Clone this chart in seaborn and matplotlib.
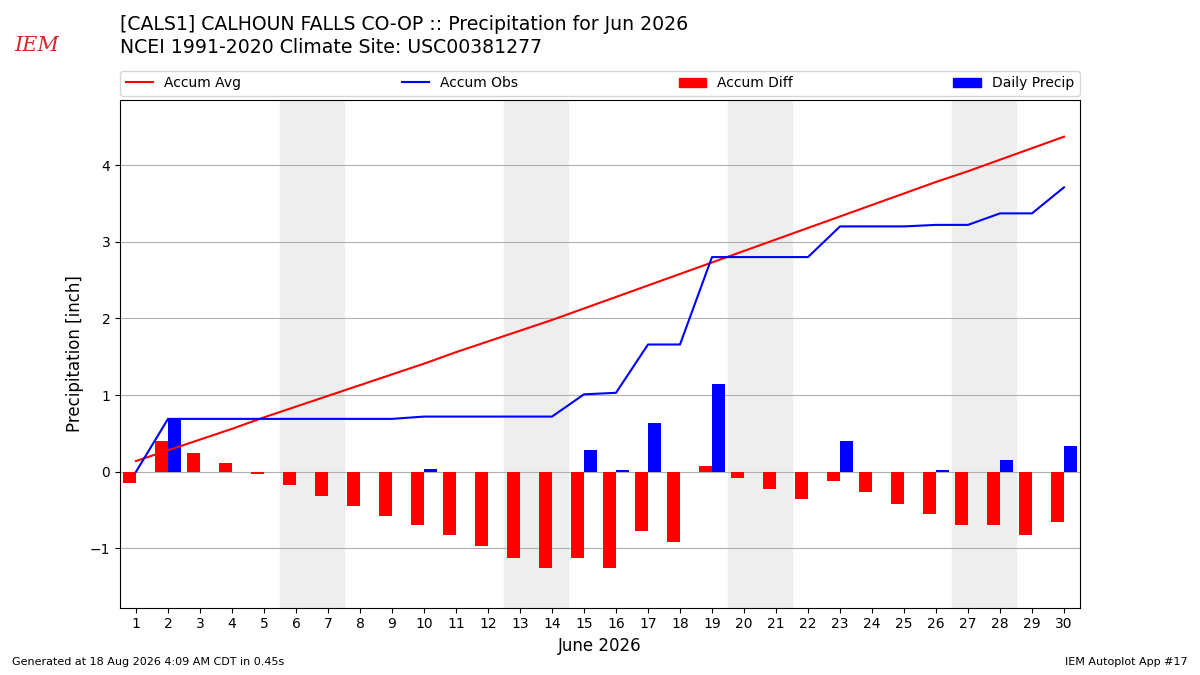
import numpy as np
import pandas as pd
import seaborn as sns
import matplotlib
matplotlib.use("Agg")
import matplotlib.pyplot as plt
from matplotlib.patches import Patch
from matplotlib.lines import Line2D

# June 2026 daily data
days = list(range(1, 31))
accum_avg = [0.14, 0.28, 0.42, 0.56, 0.71, 0.85, 0.99, 1.13, 1.27, 1.41,
             1.56, 1.70, 1.84, 1.98, 2.13, 2.28, 2.43, 2.58, 2.73, 2.88,
             3.03, 3.18, 3.33, 3.48, 3.63, 3.78, 3.92, 4.07, 4.22, 4.37]
accum_obs = [0.00, 0.69, 0.69, 0.69, 0.69, 0.69, 0.69, 0.69, 0.69, 0.72,
             0.72, 0.72, 0.72, 0.72, 1.01, 1.03, 1.66, 1.66, 2.80, 2.80,
             2.80, 2.80, 3.20, 3.20, 3.20, 3.22, 3.22, 3.37, 3.37, 3.71]
accum_diff = [-0.14, 0.40, 0.25, 0.11, -0.03, -0.17, -0.31, -0.44, -0.58, -0.70,
              -0.83, -0.97, -1.12, -1.26, -1.13, -1.25, -0.77, -0.91, 0.07, -0.08,
              -0.22, -0.36, -0.12, -0.27, -0.42, -0.55, -0.69, -0.69, -0.83, -0.66]
daily_precip = [0.00, 0.69, 0.00, 0.00, 0.00, 0.00, 0.00, 0.00, 0.00, 0.03,
                0.00, 0.00, 0.00, 0.00, 0.29, 0.02, 0.63, 0.00, 1.14, 0.00,
                0.00, 0.00, 0.40, 0.00, 0.00, 0.02, 0.00, 0.15, 0.00, 0.34]
weekends = [(6, 7), (13, 14), (20, 21), (27, 28)]

df = pd.DataFrame({'day': days, 'avg': accum_avg, 'obs': accum_obs,
                   'diff': accum_diff, 'precip': daily_precip})

fig = plt.figure(figsize=(12, 6.75), dpi=100)
ax = fig.add_axes([0.1, 0.1, 0.8, 0.752])

# weekend shading
for a, b in weekends:
    ax.axvspan(a - 0.5, b + 0.5, color='#eeeeee', zorder=0)

ax.bar(df['day'], df['diff'], width=-0.4, align='edge', color='red', zorder=2)
ax.bar(df['day'], df['precip'], width=0.4, align='edge', color='blue', zorder=2)
sns.lineplot(data=df, x='day', y='avg', color='red', lw=1.5, ax=ax, zorder=3)
sns.lineplot(data=df, x='day', y='obs', color='blue', lw=1.5, ax=ax, zorder=3)

ax.set_xlim(0.5, 30.5)
ax.set_ylim(-1.77, 4.85)
ax.set_xticks(days)
ax.set_yticks([-1, 0, 1, 2, 3, 4])
ax.yaxis.grid(True, color='#b0b0b0', lw=0.8, zorder=1)
ax.set_axisbelow(True)
ax.set_xlabel('June 2026', fontsize=12)
ax.set_ylabel('Precipitation [inch]', fontsize=12)

handles = [Line2D([], [], color='red', lw=1.5), Line2D([], [], color='blue', lw=1.5),
           Patch(color='red'), Patch(color='blue')]
labels = ['Accum Avg', 'Accum Obs', 'Accum Diff', 'Daily Precip']
ax.legend(handles, labels, ncol=4, mode='expand', loc='lower left',
          bbox_to_anchor=(0, 1.008, 1, 0.05), borderaxespad=0, fontsize=10)

fig.text(0.1, 0.963, '[CALS1] CALHOUN FALLS CO-OP :: Precipitation for Jun 2026',
         fontsize=13.6, va='center')
fig.text(0.1, 0.929, 'NCEI 1991-2020 Climate Site: USC00381277',
         fontsize=13.6, va='center')
fig.text(0.031, 0.933, 'IEM', fontsize=15, color='#d62728', family='DejaVu Serif',
         style='italic', ha='center', va='center')
fig.text(0.01, 0.015, 'Generated at 18 Aug 2026 4:09 AM CDT in 0.45s', fontsize=8)
fig.text(0.99, 0.015, 'IEM Autoplot App #17', fontsize=8, ha='right')

fig.savefig('out.png', dpi=100)
